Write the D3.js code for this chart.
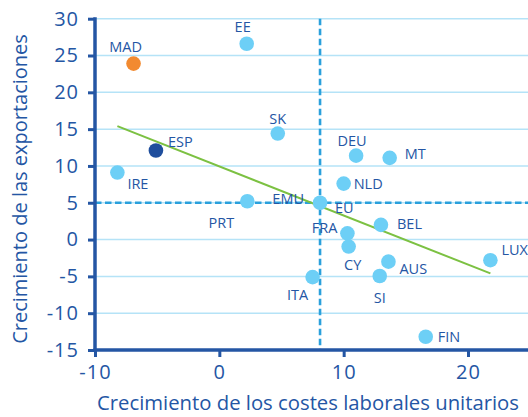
<!DOCTYPE html>
<html>
<head>
<meta charset="utf-8">
<script src="https://cdn.jsdelivr.net/npm/d3@7"></script>
<style>
  html, body { margin: 0; padding: 0; background: #fff; }
  svg { display: block; font-family: "Open Sans", sans-serif; }
</style>
</head>
<body>
<div id="graph"></div>
<script>
// Data
var names = ["MAD", "EE", "ESP", "IRE", "SK", "DEU", "MT", "NLD", "PRT", "EU",
             "BEL", "FRA", "CY", "AUS", "SI", "ITA", "LUX", "FIN"];
var ulcGrowth = [-6.9, 2.2, -5.1, -8.2, 4.7, 11.0, 13.7, 10.0, 2.25, 8.1,
                 13.0, 10.3, 10.4, 13.6, 12.9, 7.5, 21.8, 16.6];
var exportGrowth = [23.9, 26.6, 12.1, 9.1, 14.4, 11.4, 11.1, 7.6, 5.2, 5.0,
                    2.0, 0.85, -0.95, -3.0, -4.95, -5.1, -2.8, -13.2];
var xTicks = [-10, 0, 10, 20];
var yTicks = [-15, -10, -5, 0, 5, 10, 15, 20, 25, 30];
var trendX = [-8.2, 21.8];
var trendY = [15.4, -4.6];
var refX = 8.1;   // vertical dashed reference
var refY = 5;     // horizontal dashed reference

// label placement (px offsets from dot, anchor)
var labelPos = {
  MAD: [-8, -12, "middle"], EE: [-4, -12, "middle"], ESP: [12, -3, "start"],
  IRE: [10, 16, "start"], SK: [0, -10, "middle"], DEU: [-4, -10, "middle"],
  MT: [15, 1, "start"], NLD: [10, 5, "start"], PRT: [-26, 27, "middle"],
  BEL: [16, 4, "start"], FRA: [-10, 0, "end"], CY: [4, 23, "middle"],
  AUS: [11, 12, "start"], SI: [0, 27, "middle"], ITA: [-15, 23, "middle"],
  LUX: [11, -5, "start"], FIN: [12, 5, "start"]
};

var W = 528, H = 417;
var dark = "#2456a4", light = "#6dcff6", grid = "#b5e3f7", dash = "#2aa0dc";

var x = d3.scaleLinear().domain([-10, 20]).range([95, 468]);
var y = d3.scaleLinear().domain([-15, 30]).range([350, 18.7]);

var svg = d3.select("#graph").append("svg").attr("width", W).attr("height", H);

// grid lines
svg.append("g").selectAll("line").data(yTicks.filter(function(d){ return d > -15; }))
  .enter().append("line")
  .attr("x1", x(-10)).attr("x2", W)
  .attr("y1", function(d){ return y(d); }).attr("y2", function(d){ return y(d); })
  .attr("stroke", grid).attr("stroke-width", 1.5);

// dashed reference lines
svg.append("line")
  .attr("x1", x(-10)).attr("x2", W).attr("y1", y(refY)).attr("y2", y(refY))
  .attr("stroke", dash).attr("stroke-width", 2.6).attr("stroke-dasharray", "6.5,3.5");
svg.append("line")
  .attr("x1", x(refX)).attr("x2", x(refX)).attr("y1", y(30)).attr("y2", y(-15))
  .attr("stroke", dash).attr("stroke-width", 2.6).attr("stroke-dasharray", "6.5,3.5");

// axes
var yAxis = svg.append("g").attr("transform", "translate(" + x(-10) + ",0)")
  .call(d3.axisLeft(y).tickValues(yTicks).tickFormat(String).tickSize(7).tickPadding(9));
var xAxis = svg.append("g").attr("transform", "translate(0," + y(-15) + ")")
  .call(d3.axisBottom(x).tickValues(xTicks).tickFormat(String).tickSize(7).tickPadding(8));
[xAxis, yAxis].forEach(function(a) {
  a.select(".domain").remove();
  a.selectAll("line").attr("stroke", dark).attr("stroke-width", 3);
  a.selectAll("text").attr("fill", dark).attr("font-size", 20)
    .attr("font-family", "Open Sans, sans-serif").style("letter-spacing", "1px");
});
svg.append("line").attr("x1", x(-10)).attr("x2", x(-10)).attr("y1", y(30) - 1.5).attr("y2", y(-15) + 1.5)
  .attr("stroke", dark).attr("stroke-width", 3.5);
svg.append("line").attr("x1", x(-10) - 1.5).attr("x2", W).attr("y1", y(-15)).attr("y2", y(-15))
  .attr("stroke", dark).attr("stroke-width", 3.5);

// trend line
svg.append("line")
  .attr("x1", x(trendX[0])).attr("y1", y(trendY[0]))
  .attr("x2", x(trendX[1])).attr("y2", y(trendY[1]))
  .attr("stroke", "#7cc142").attr("stroke-width", 2);

// points
svg.append("g").selectAll("circle").data(names).enter().append("circle")
  .attr("cx", function(d, i){ return x(ulcGrowth[i]); })
  .attr("cy", function(d, i){ return y(exportGrowth[i]); })
  .attr("r", 7.3)
  .attr("fill", function(d){ return d == "MAD" ? "#f28a30" : (d == "ESP" ? "#1f4e9d" : light); });

// labels
var lab = svg.append("g").attr("font-size", 14.5).attr("font-weight", 500).attr("fill", dark);
names.forEach(function(n, i) {
  if (labelPos[n]) {
    var p = labelPos[n];
    lab.append("text").attr("x", x(ulcGrowth[i]) + p[0]).attr("y", y(exportGrowth[i]) + p[1])
      .attr("text-anchor", p[2]).text(n);
  }
});
// EMU and EU share the same dot
var iEU = names.indexOf("EU");
lab.append("text").attr("x", x(ulcGrowth[iEU]) - 16).attr("y", y(exportGrowth[iEU]) + 1)
  .attr("text-anchor", "end").text("EMU");
lab.append("text").attr("x", x(ulcGrowth[iEU]) + 15).attr("y", y(exportGrowth[iEU]) + 10)
  .attr("text-anchor", "start").text("EU");

// axis titles
svg.append("text").attr("x", 308).attr("y", 410).attr("text-anchor", "middle")
  .attr("font-size", 20.3).attr("fill", dark).text("Crecimiento de los costes laborales unitarios");
svg.append("text").attr("transform", "translate(27,189) rotate(-90)").attr("text-anchor", "middle")
  .attr("font-size", 20).attr("fill", dark).text("Crecimiento de las exportaciones");
</script>
</body>
</html>
